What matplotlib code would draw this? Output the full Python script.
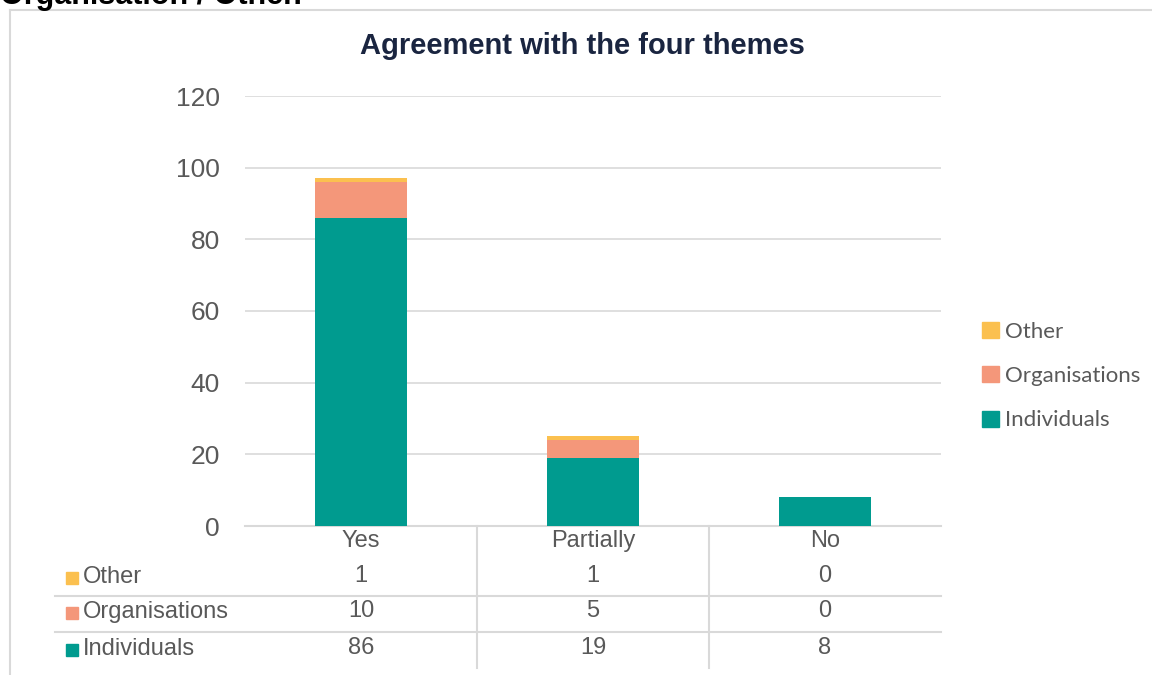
import matplotlib.pyplot as plt
import matplotlib.lines as mlines
import matplotlib.patches as mpatches
from matplotlib.transforms import blended_transform_factory

# data
categories = ["Yes", "Partially", "No"]
individuals = [86, 19, 8]
organisations = [10, 5, 0]
other = [1, 1, 0]

series_names = ["Individuals", "Organisations", "Other"]
series_colors = ["#009B8F", "#F4977A", "#FBC04F"]

TEXT = "#595959"
GRID = "#D9D9D9"

fig = plt.figure(figsize=(11.52, 6.75), dpi=100)
ax = fig.add_axes([245/1152, (675-526)/675, 696/1152, 430/675])

x = range(len(categories))
bottom = [0] * len(categories)
for vals, name, col in zip([individuals, organisations, other], series_names, series_colors):
    ax.bar(x, vals, width=0.4, bottom=bottom, color=col, label=name, zorder=3)
    bottom = [b + v for b, v in zip(bottom, vals)]

ax.set_xlim(-0.5, 2.5)
ax.set_ylim(0, 120)
ax.set_yticks(range(0, 121, 20))
ax.tick_params(axis="y", length=0, pad=18, labelsize=19, labelcolor=TEXT)
ax.tick_params(axis="x", length=0, labelbottom=False)
for lab in ax.get_yticklabels():
    lab.set_fontfamily("Liberation Sans")
ax.yaxis.grid(True, color=GRID, lw=1.2, zorder=0)
for s in ["top", "right", "left"]:
    ax.spines[s].set_visible(False)
ax.spines["bottom"].set_color(GRID)
ax.spines["bottom"].set_linewidth(1.5)

# data table under the axis
tr = blended_transform_factory(ax.transData, ax.transAxes)
def ay(px):
    return (526 - px) / 430

for i, c in enumerate(categories):
    ax.text(i, ay(541), c, transform=tr, ha="center", va="center",
            fontsize=17, color=TEXT, family="Liberation Sans")

rows = [("Other", other, "#FBC04F", 576), ("Organisations", organisations, "#F4977A", 611),
        ("Individuals", individuals, "#009B8F", 648)]
for name, vals, col, py in rows:
    for i, v in enumerate(vals):
        ax.text(i, ay(py), str(v), transform=tr, ha="center", va="center",
                fontsize=17, color=TEXT, family="Liberation Sans")
    ax.text((83-245)/696, ay(py + 1), name, transform=ax.transAxes, ha="left", va="center",
            fontsize=17, color=TEXT, family="Liberation Sans", clip_on=False)
    ax.add_patch(mpatches.Rectangle(((66-245)/696, ay(py + 8)), 12/696, 12/430,
                                    transform=ax.transAxes, color=col, clip_on=False))

for py in [596, 632]:
    ax.add_line(mlines.Line2D([(55-245)/696, 1], [ay(py), ay(py)], transform=ax.transAxes,
                              color=GRID, lw=1.5, clip_on=False))
for xb in [0.5, 1.5]:
    ax.add_line(mlines.Line2D([xb, xb], [0, ay(668)], transform=tr,
                              color=GRID, lw=1.5, clip_on=False))

# legend
handles = [mpatches.Patch(color=c, label=n) for n, c in zip(series_names, series_colors)][::-1]
fig.legend(handles=handles, loc="center left", bbox_to_anchor=(962/1152, (675-376)/675),
           frameon=False, handlelength=0.75, handleheight=0.75, handletextpad=0.3,
           labelspacing=1.1, prop={"family": "Lato", "size": 16}, labelcolor=TEXT)

# title and frame
fig.text(582/1152, (675-46)/675, "Agreement with the four themes", ha="center", va="center",
         fontsize=21, fontweight="bold", color="#1A2540", family="Liberation Sans")
fig.text(0, 1 - 4/675, "Organisation / Other.", ha="left", va="baseline",
         fontsize=22, fontweight="bold", color="black", family="Liberation Sans")
fig.add_artist(mlines.Line2D([10/1152, 1], [1 - 10/675, 1 - 10/675], color=GRID, lw=1.5))
fig.add_artist(mlines.Line2D([10/1152, 10/1152], [0, 1 - 10/675], color=GRID, lw=1.5))

fig.savefig("out.png", dpi=100)
